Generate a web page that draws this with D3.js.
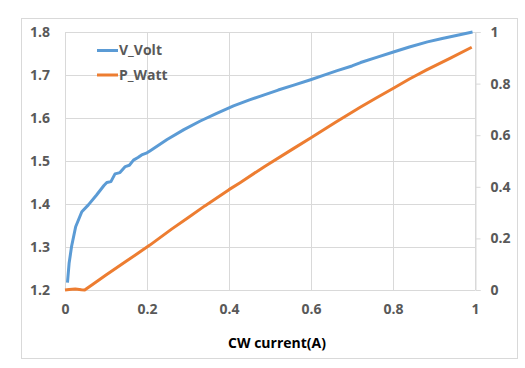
<!DOCTYPE html>
<html>
<head>
<meta charset="utf-8">
<script src="https://cdn.jsdelivr.net/npm/d3@7"></script>
<style>
  body { margin: 0; background: #fff; }
  svg { display: block; }
  text { font-family: "Open Sans", "Liberation Sans", sans-serif; font-weight: 700; }
</style>
</head>
<body>
<svg id="chart" width="525" height="368"></svg>
<script>
// ---- data ----
const voltCurrent = [0.006,0.010,0.016,0.026,0.041,0.057,0.077,0.095,0.102,0.112,0.122,0.134,0.147,0.157,0.167,0.178,0.187,0.200,0.208,0.249,0.290,0.330,0.370,0.411,0.450,0.477,0.520,0.560,0.599,0.630,0.664,0.700,0.721,0.760,0.803,0.840,0.884,0.920,0.960,0.994];
const voltValues  = [1.217,1.262,1.301,1.347,1.382,1.398,1.421,1.443,1.450,1.452,1.470,1.473,1.487,1.490,1.502,1.508,1.514,1.519,1.524,1.550,1.573,1.593,1.611,1.628,1.642,1.651,1.665,1.677,1.689,1.699,1.710,1.721,1.729,1.741,1.754,1.765,1.777,1.785,1.793,1.800];
const wattCurrent = [0.000,0.010,0.025,0.040,0.048,0.075,0.100,0.150,0.207,0.260,0.300,0.341,0.400,0.427,0.488,0.557,0.600,0.660,0.720,0.760,0.801,0.840,0.882,0.940,0.992];
const wattValues  = [0.000,0.002,0.004,0.001,0.000,0.030,0.058,0.112,0.174,0.236,0.280,0.326,0.389,0.416,0.480,0.548,0.590,0.650,0.708,0.745,0.782,0.818,0.853,0.899,0.941];
const xTicks = [0, 0.2, 0.4, 0.6, 0.8, 1];
const yLeftTicks = [1.2, 1.3, 1.4, 1.5, 1.6, 1.7, 1.8];
const yRightTicks = [0, 0.2, 0.4, 0.6, 0.8, 1];
const seriesNames = ["V_Volt", "P_Watt"];
const seriesColors = ["#5B9BD5", "#ED7D31"];
const xTitle = "CW current(A)";

// ---- layout ----
const svg = d3.select("#chart");
const plot = { left: 65, right: 475, top: 32, bottom: 290 };
const x = d3.scaleLinear().domain([0, 1]).range([plot.left, plot.right]);
const yL = d3.scaleLinear().domain([1.2, 1.8]).range([plot.bottom, plot.top]);
const yR = d3.scaleLinear().domain([0, 1]).range([plot.bottom, plot.top]);
const labelColor = "#595959";
const gridColor = "#D9D9D9";

// outer border
svg.append("rect").attr("x", 21.5).attr("y", 18.5).attr("width", 496).attr("height", 340)
  .attr("fill", "#fff").attr("stroke", gridColor).attr("stroke-width", 1);

// gridlines
svg.append("g").selectAll("line").data(yLeftTicks).join("line")
  .attr("x1", plot.left).attr("x2", plot.right)
  .attr("y1", d => Math.round(yL(d)) + 0.5).attr("y2", d => Math.round(yL(d)) + 0.5)
  .attr("stroke", gridColor);
svg.append("g").selectAll("line").data(xTicks).join("line")
  .attr("y1", plot.top).attr("y2", plot.bottom)
  .attr("x1", d => Math.round(x(d)) + 0.5).attr("x2", d => Math.round(x(d)) + 0.5)
  .attr("stroke", gridColor);

// left axis labels
const gL = svg.append("g").attr("transform", `translate(${plot.left},0)`)
  .call(d3.axisLeft(yL).tickValues(yLeftTicks).tickFormat(d3.format(".1f")).tickSize(0).tickPadding(15));
gL.select(".domain").remove();
gL.selectAll("text").attr("fill", labelColor).style("font-size", "14px");

// right axis
const gR = svg.append("g").attr("transform", `translate(${Math.round(plot.right) + 0.5},0)`)
  .call(d3.axisRight(yR).tickValues(yRightTicks).tickFormat(d => d3.format("")(+d.toFixed(1))).tickSize(5).tickPadding(10));
gR.select(".domain").attr("stroke", gridColor);
gR.selectAll(".tick line").attr("stroke", gridColor);
gR.selectAll("text").attr("fill", labelColor).style("font-size", "14px");

// bottom axis labels
const gB = svg.append("g").attr("transform", `translate(0,${plot.bottom})`)
  .call(d3.axisBottom(x).tickValues(xTicks).tickFormat(d => d3.format("")(+d.toFixed(1))).tickSize(0).tickPadding(14));
gB.select(".domain").remove();
gB.selectAll("text").attr("fill", labelColor).style("font-size", "14px");

// x title
svg.append("text").attr("x", 277).attr("y", 348).attr("text-anchor", "middle")
  .attr("fill", "#000").style("font-size", "14px").text(xTitle);

// lines
const voltData = voltCurrent.map((c, i) => [c, voltValues[i]]);
const wattData = wattCurrent.map((c, i) => [c, wattValues[i]]);
svg.append("path").datum(wattData)
  .attr("fill", "none").attr("stroke", seriesColors[1]).attr("stroke-width", 3).attr("stroke-linejoin", "round")
  .attr("d", d3.line().x(d => x(d[0])).y(d => yR(d[1])));
svg.append("path").datum(voltData)
  .attr("fill", "none").attr("stroke", seriesColors[0]).attr("stroke-width", 3).attr("stroke-linejoin", "round")
  .attr("d", d3.line().x(d => x(d[0])).y(d => yL(d[1])));

// legend
const legend = svg.append("g");
seriesNames.forEach((name, i) => {
  const ly = 50.5 + i * 24.5;
  legend.append("line").attr("x1", 97).attr("x2", 118).attr("y1", ly).attr("y2", ly)
    .attr("stroke", seriesColors[i]).attr("stroke-width", 3);
  legend.append("text").attr("x", 119).attr("y", ly).attr("dy", "0.35em")
    .attr("fill", labelColor).style("font-size", "14px").text(name);
});
</script>
</body>
</html>
